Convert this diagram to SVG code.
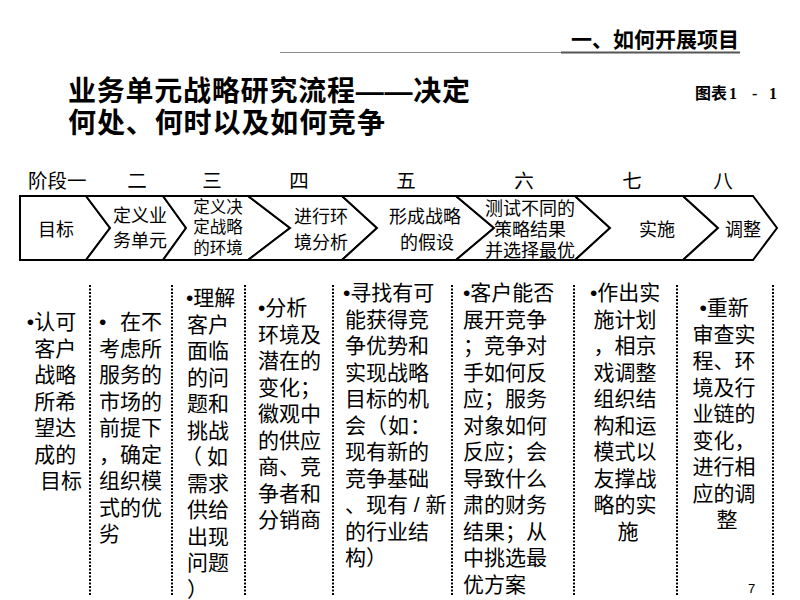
<svg xmlns="http://www.w3.org/2000/svg" width="800" height="600" viewBox="0 0 800 600">
<style>
  text { font-family: "Liberation Sans", "Noto Sans CJK SC", sans-serif; fill: #000; text-spacing-trim: space-all; }
  .hdr { font-size: 21px; font-weight: 700; }
  .title { font-size: 28px; font-weight: 700; }
  .fig { font-size: 16px; font-weight: 700; }
  .serif { font-family: "Liberation Serif", serif; }
  .stage { font-size: 19.5px; }
  .chev { fill: #fff; stroke: #000; stroke-width: 2; stroke-linejoin: miter; }
  .ct { font-size: 18px; text-anchor: middle; }
  .ct3 { font-size: 16.5px; text-anchor: middle; }
  .col { font-size: 21px; }
  .sep { stroke: #000; stroke-width: 2; stroke-dasharray: 2 1.5; fill: none; }
</style>
<rect width="800" height="600" fill="#fff"/>

<g id="header">
  <line x1="280" y1="52.5" x2="740" y2="52.5" stroke="#8a8a8a" stroke-width="1.2"/>
  <line x1="561" y1="52.5" x2="740" y2="52.5" stroke="#555" stroke-width="2"/>
  <text class="hdr" x="739" y="47" text-anchor="end">一、如何开展项目</text>
</g>

<g id="title">
  <text class="title" x="68" y="101" textLength="402" lengthAdjust="spacing">业务单元战略研究流程——决定</text>
  <text class="title" x="68" y="133" textLength="317" lengthAdjust="spacing">何处、何时以及如何竞争</text>
</g>

<g id="figure-label">
  <text class="fig" x="695" y="99"><tspan font-family="Noto Sans CJK SC, sans-serif">图表</tspan><tspan class="serif" x="729">1</tspan><tspan class="serif" x="752">-</tspan><tspan class="serif" x="769">1</tspan></text>
</g>

<g id="stages">
  <text class="stage" x="28" y="188">阶段一</text>
  <text class="stage" x="137" y="188" text-anchor="middle">二</text>
  <text class="stage" x="212" y="188" text-anchor="middle">三</text>
  <text class="stage" x="299" y="188" text-anchor="middle">四</text>
  <text class="stage" x="406" y="188" text-anchor="middle">五</text>
  <text class="stage" x="524" y="188" text-anchor="middle">六</text>
  <text class="stage" x="632" y="188" text-anchor="middle">七</text>
  <text class="stage" x="723" y="188" text-anchor="middle">八</text>
</g>

<g id="step1">
  <polygon class="chev" points="20,196 86,196 110,228 86,260 20,260"/>
  <text class="ct" x="56" y="236">目标</text>
</g>
<g id="step2">
  <polygon class="chev" points="86,196 163,196 186,228 163,260 86,260 110,228"/>
  <text class="ct" x="140" y="222">定义业</text>
  <text class="ct" x="140" y="247">务单元</text>
</g>
<g id="step3">
  <polygon class="chev" points="163,196 248,196 290,228 248,260 163,260 186,228"/>
  <text class="ct3" x="218" y="213">定义决</text>
  <text class="ct3" x="218" y="233">定战略</text>
  <text class="ct3" x="218" y="254">的环境</text>
</g>
<g id="step4">
  <polygon class="chev" points="248,196 342,196 377,228 342,260 248,260 290,228"/>
  <text class="ct" x="321" y="223">进行环</text>
  <text class="ct" x="321" y="249">境分析</text>
</g>
<g id="step5">
  <polygon class="chev" points="342,196 456,196 494,228 456,260 342,260 377,228"/>
  <text class="ct" x="425" y="223">形成战略</text>
  <text class="ct" x="427" y="249">的假设</text>
</g>
<g id="step6">
  <polygon class="chev" points="456,196 575,196 610,228 575,260 456,260 494,228"/>
  <text class="ct" x="530" y="215" font-size="17">测试不同的</text>
  <text class="ct" x="530" y="236" font-size="17">策略结果</text>
  <text class="ct" x="530" y="257" font-size="17">并选择最优</text>
</g>
<g id="step7">
  <polygon class="chev" points="575,196 683,196 718,228 683,260 575,260 610,228"/>
  <text class="ct" x="657" y="236">实施</text>
</g>
<g id="step8">
  <polygon class="chev" points="683,196 753,196 777,228 753,260 683,260 718,228"/>
  <text class="ct" x="743" y="236">调整</text>
</g>

<g id="separators">
  <line class="sep" x1="90" y1="285" x2="90" y2="595"/>
  <line class="sep" x1="172" y1="285" x2="172" y2="595"/>
  <line class="sep" x1="245" y1="285" x2="245" y2="595"/>
  <line class="sep" x1="333" y1="285" x2="333" y2="595"/>
  <line class="sep" x1="452" y1="285" x2="452" y2="595"/>
  <line class="sep" x1="574" y1="285" x2="574" y2="595"/>
  <line class="sep" x1="677" y1="285" x2="677" y2="595"/>
  <line class="sep" x1="773" y1="285" x2="773" y2="595"/>
</g>

<g id="desc1">
  <text class="col" text-anchor="end" y="329">
    <tspan x="82">•认可</tspan>
    <tspan x="82" dy="26.5">客户</tspan>
    <tspan x="82" dy="26.5">战略</tspan>
    <tspan x="82" dy="26.5">所希</tspan>
    <tspan x="82" dy="26.5">望达</tspan>
    <tspan x="82" dy="26.5">成的</tspan>
    <tspan x="82" dy="26.5">目标</tspan>
  </text>
</g>
<g id="desc2">
  <text class="col" y="329">
    <tspan x="99">•</tspan><tspan x="120">在不</tspan>
    <tspan x="99" dy="26.5">考虑所</tspan>
    <tspan x="99" dy="26.5">服务的</tspan>
    <tspan x="99" dy="26.5">市场的</tspan>
    <tspan x="99" dy="26.5">前提下</tspan>
    <tspan x="99" dy="26.5">，确定</tspan>
    <tspan x="99" dy="26.5">组织模</tspan>
    <tspan x="99" dy="26.5">式的优</tspan>
    <tspan x="99" dy="26.5">劣</tspan>
  </text>
</g>
<g id="desc3">
  <text class="col" y="305">
    <tspan x="186">•理解</tspan>
    <tspan x="187" dy="26.5">客户</tspan>
    <tspan x="187" dy="26.5">面临</tspan>
    <tspan x="187" dy="26.5">的问</tspan>
    <tspan x="187" dy="26.5">题和</tspan>
    <tspan x="187" dy="26.5">挑战</tspan>
    <tspan x="181" dy="26.5">（</tspan><tspan x="207">如</tspan>
    <tspan x="187" dy="26.5">需求</tspan>
    <tspan x="187" dy="26.5">供给</tspan>
    <tspan x="187" dy="26.5">出现</tspan>
    <tspan x="187" dy="26.5">问题</tspan>
    <tspan x="187" dy="26.5">）</tspan>
  </text>
</g>
<g id="desc4">
  <text class="col" y="315">
    <tspan x="258">•分析</tspan>
    <tspan x="258" dy="26.5">环境及</tspan>
    <tspan x="258" dy="26.5">潜在的</tspan>
    <tspan x="258" dy="26.5">变化；</tspan>
    <tspan x="258" dy="26.5">徽观中</tspan>
    <tspan x="258" dy="26.5">的供应</tspan>
    <tspan x="258" dy="26.5">商、竞</tspan>
    <tspan x="258" dy="26.5">争者和</tspan>
    <tspan x="258" dy="26.5">分销商</tspan>
  </text>
</g>
<g id="desc5">
  <text class="col" y="300">
    <tspan x="343">•寻找有可</tspan>
    <tspan x="345" dy="26.5">能获得竞</tspan>
    <tspan x="345" dy="26.5">争优势和</tspan>
    <tspan x="345" dy="26.5">实现战略</tspan>
    <tspan x="345" dy="26.5">目标的机</tspan>
    <tspan x="345" dy="26.5">会</tspan><tspan x="366">（</tspan><tspan x="388">如</tspan><tspan x="410">：</tspan>
    <tspan x="345" dy="26.5">现有新的</tspan>
    <tspan x="345" dy="26.5">竞争基础</tspan>
    <tspan x="345" dy="26.5">、现有 / 新</tspan>
    <tspan x="345" dy="26.5">的行业结</tspan>
    <tspan x="345" dy="26.5">构）</tspan>
  </text>
</g>
<g id="desc6">
  <text class="col" y="300">
    <tspan x="463">•客户能否</tspan>
    <tspan x="463" dy="26.5">展开竞争</tspan>
    <tspan x="463" dy="26.5">；竞争对</tspan>
    <tspan x="463" dy="26.5">手如何反</tspan>
    <tspan x="463" dy="26.5">应；服务</tspan>
    <tspan x="463" dy="26.5">对象如何</tspan>
    <tspan x="463" dy="26.5">反应；会</tspan>
    <tspan x="463" dy="26.5">导致什么</tspan>
    <tspan x="463" dy="26.5">肃的财务</tspan>
    <tspan x="463" dy="26.5">结果；从</tspan>
    <tspan x="463" dy="26.5">中挑选最</tspan>
    <tspan x="463" dy="26.5">优方案</tspan>
  </text>
</g>
<g id="desc7">
  <text class="col" text-anchor="middle" y="300">
    <tspan x="628">•作出实</tspan>
    <tspan x="628" dy="26.5">施计划</tspan>
    <tspan x="628" dy="26.5">，相京</tspan>
    <tspan x="628" dy="26.5">戏调整</tspan>
    <tspan x="628" dy="26.5">组织结</tspan>
    <tspan x="628" dy="26.5">构和运</tspan>
    <tspan x="628" dy="26.5">模式以</tspan>
    <tspan x="628" dy="26.5">友撑战</tspan>
    <tspan x="628" dy="26.5">略的实</tspan>
    <tspan x="628" dy="26.5">施</tspan>
  </text>
</g>
<g id="desc8">
  <text class="col" text-anchor="middle" y="315">
    <tspan x="727">•重新</tspan>
    <tspan x="727" dy="26.5">审查实</tspan>
    <tspan x="727" dy="26.5">程、环</tspan>
    <tspan x="727" dy="26.5">境及行</tspan>
    <tspan x="727" dy="26.5">业链的</tspan>
    <tspan x="727" dy="26.5">变化，</tspan>
    <tspan x="727" dy="26.5">进行相</tspan>
    <tspan x="727" dy="26.5">应的调</tspan>
    <tspan x="727" dy="26.5">整</tspan>
  </text>
</g>

<g id="page-number">
  <text x="748" y="593" font-size="13">7</text>
</g>
</svg>
